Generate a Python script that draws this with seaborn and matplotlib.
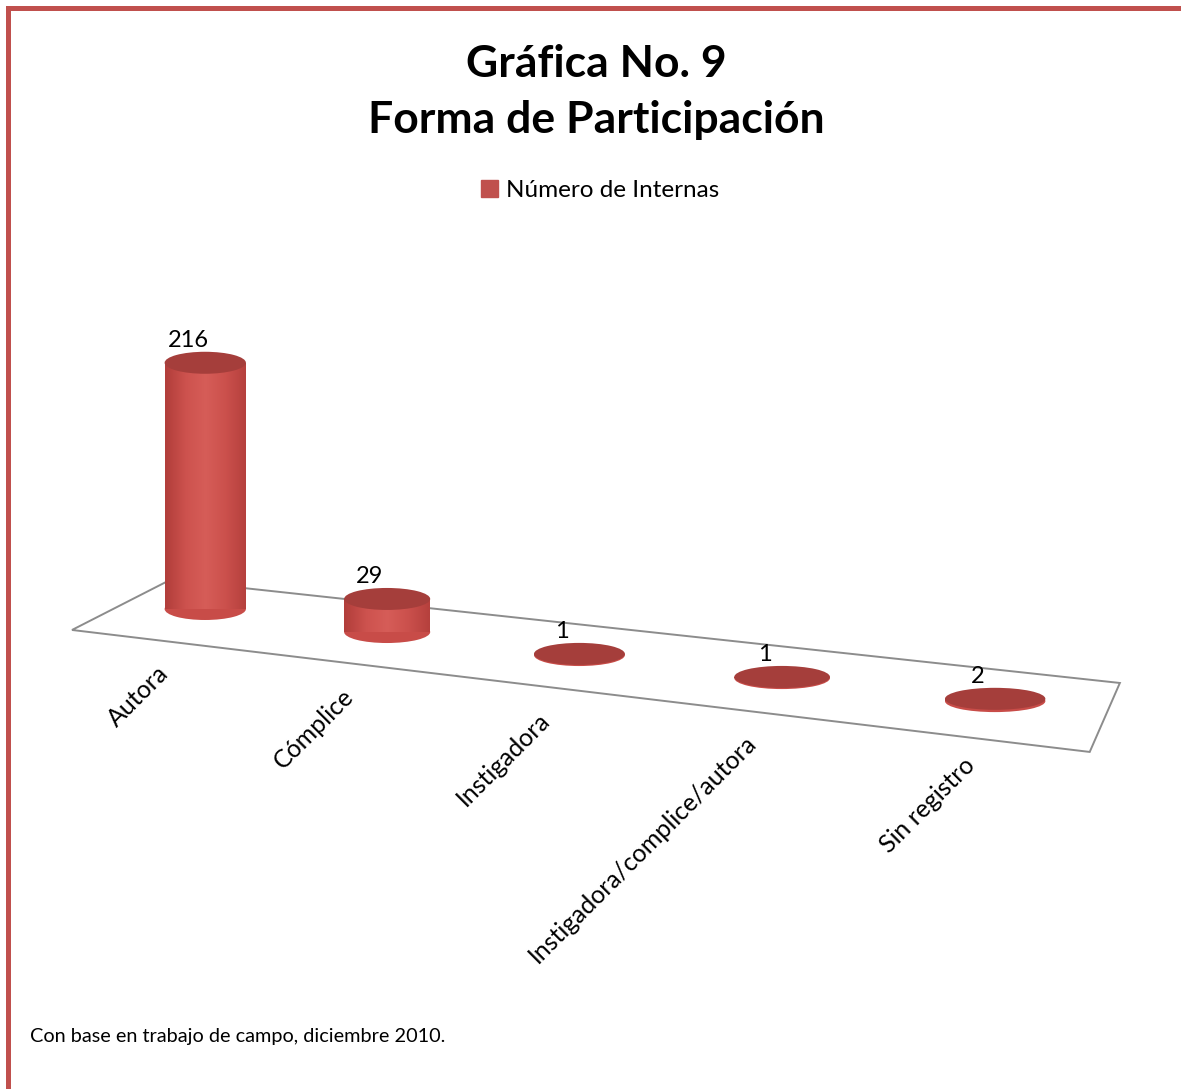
import numpy as np
import pandas as pd
import seaborn as sns
from matplotlib import pyplot as plt
from matplotlib.colors import LinearSegmentedColormap
from matplotlib.patches import Ellipse, Polygon, Patch
from matplotlib.lines import Line2D

# datos de la grafica
categorias = ['Autora', 'Cómplice', 'Instigadora', 'Instigadora/complice/autora', 'Sin registro']
internas = [216, 29, 1, 1, 2]
serie = 'Número de Internas'
titulo = 'Gráfica No. 9\nForma de Participación'
nota = 'Con base en trabajo de campo, diciembre 2010.'

ROJO = '#C0504D'
CUERPO = '#C84C48'
TAPA = '#A53E3B'
PISO = '#8C8C8C'
DECLIVE = 20.2      # caida del piso por categoria (perspectiva)
PERSP = 0.0294      # ensanche horizontal hacia la derecha
ALTO_ELIPSE = 19.3
ANCHO = 0.46
PISO_ESQUINAS = [(-0.77, -18.4), (-0.2, 25.4), (4.565, -64.9), (4.43, -125.4)]


def adelante(x):
    return x + PERSP * x ** 2


def atras(y):
    return (-1 + np.sqrt(np.maximum(1 + 4 * PERSP * y, 1e-9))) / (2 * PERSP)


sns.set_theme(style='white')
plt.rcParams['font.family'] = ['Lato', 'DejaVu Sans']
plt.rcParams['text.color'] = 'black'

sombra = LinearSegmentedColormap.from_list(
    'cilindro', ['#B23E3B', '#CD524E', '#D65D58', '#CB504C', '#B5403D'])

df = pd.DataFrame({'forma': categorias, 'internas': internas})

fig = plt.figure(figsize=(11.81, 10.89), dpi=100)
ax = fig.add_axes([0.0567, 0.3047, 0.9268, 0.3873])
sns.barplot(data=df, x='forma', y='internas', color=CUERPO, width=ANCHO,
            saturation=1, linewidth=0, ax=ax, zorder=2)
ax.set_xscale('function', functions=(adelante, atras))

ax.add_patch(Polygon(PISO_ESQUINAS, closed=True, fill=False, edgecolor=PISO,
                     lw=1.4, zorder=1))

# cilindros a partir de las barras de seaborn
degradado = np.linspace(0, 1, 64).reshape(1, -1)
for i, (barra, valor) in enumerate(zip(ax.containers[0], internas)):
    base = -DECLIVE * i
    barra.set_y(base)
    x0, w = barra.get_x(), barra.get_width()
    cx = x0 + w / 2
    img = ax.imshow(degradado, cmap=sombra, aspect='auto', zorder=2.1,
                    extent=(x0, x0 + w, base, base + valor))
    img.set_clip_path(barra)
    ax.add_patch(Ellipse((cx, base), w, ALTO_ELIPSE, color=CUERPO, lw=0, zorder=1.9))
    ax.add_patch(Ellipse((cx, base + valor), w, ALTO_ELIPSE, color=TAPA, lw=0, zorder=3))
    ax.annotate(str(valor), xy=(cx, base + valor), xytext=(-17, 12),
                textcoords='offset pixels', ha='center', va='bottom',
                fontsize=17, color='black')
    ax.text(i - 0.23 + 0.03 * i, base - 53.5, categorias[i], rotation=45,
            rotation_mode='anchor', ha='right', va='center', fontsize=17.9,
            color='black')

ax.set_xlim(-0.8, 4.75)
ax.set_ylim(-130, 240)
ax.set_axis_off()

fig.text(0.505, 0.960, titulo, ha='center', va='top', fontsize=32,
         fontweight='bold', linespacing=1.5, color='black')
fig.legend(handles=[Patch(color=ROJO, label=serie)], loc='center',
           bbox_to_anchor=(0.508, 0.825), frameon=False, fontsize=17.5,
           handlelength=0.7, handleheight=0.7, handletextpad=0.35,
           labelcolor='black')
fig.text(0.025, 0.0478, nota, ha='left', va='center', fontsize=14.3,
         color='black')

# marco rojo
fig.add_artist(Line2D([0.0064, 0.0064], [0, 0.9927], transform=fig.transFigure,
                      color=ROJO, lw=3.6, solid_capstyle='projecting'))
fig.add_artist(Line2D([0.0064, 1], [0.9927, 0.9927], transform=fig.transFigure,
                      color=ROJO, lw=3.6, solid_capstyle='projecting'))

fig.savefig('out.png', dpi=100)
